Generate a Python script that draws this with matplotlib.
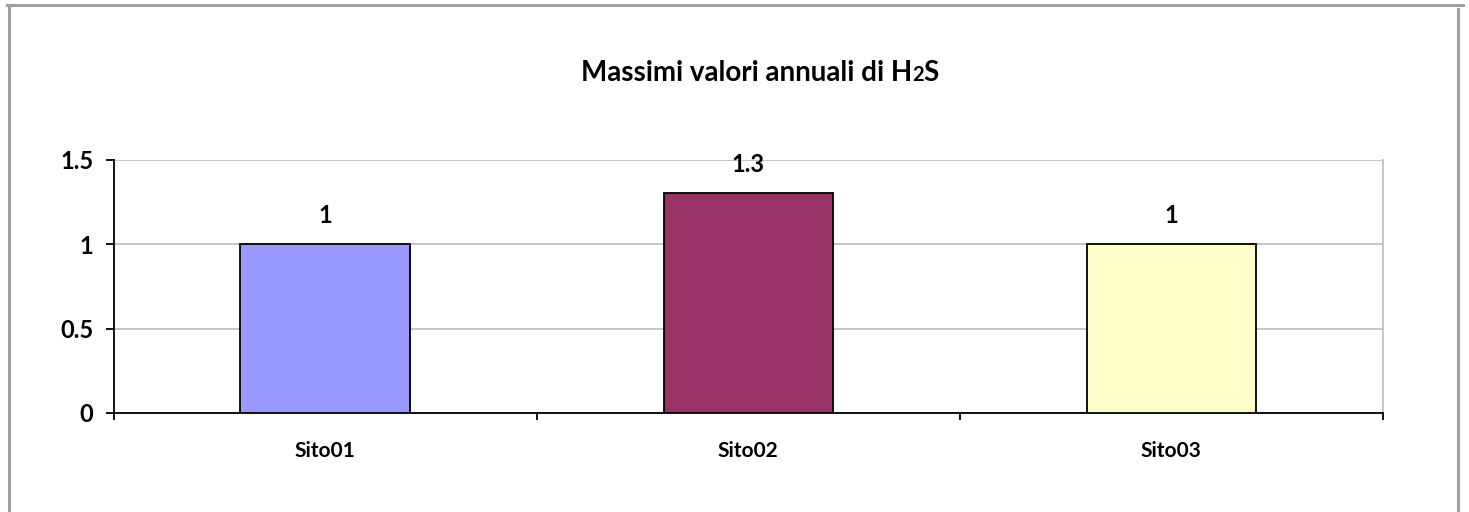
import matplotlib
matplotlib.use("Agg")
import matplotlib.pyplot as plt
from matplotlib.lines import Line2D
from matplotlib.offsetbox import TextArea, HPacker, AnnotationBbox

plt.rcParams['font.family'] = ['Lato', 'DejaVu Sans']
plt.rcParams['font.weight'] = 'bold'

categories = ["Sito01", "Sito02", "Sito03"]
values = [1.0, 1.3, 1.0]
value_labels = ["1", "1.3", "1"]
colors = ["#9999FF", "#993366", "#FFFFCC"]
yticks = [0, 0.5, 1, 1.5]
ytick_labels = ["0", "0.5", "1", "1.5"]

W, H = 1469, 512
fig = plt.figure(figsize=(W / 100, H / 100), dpi=100)
ax = fig.add_axes([113.5 / W, 1 - 413 / H, (1383 - 113.5) / W, (413 - 159.5) / H])

x = list(range(len(categories)))
ax.bar(x, values, width=0.4, color=colors, edgecolor="black", linewidth=1.3, zorder=3)
for xi, v, lab in zip(x, values, value_labels):
    ax.annotate(lab, (xi, v), xytext=(0, 15), textcoords="offset points",
                ha="center", va="baseline", fontsize=17, fontweight="bold")

ax.set_xlim(-0.5, 2.5)
ax.set_ylim(0, 1.5)
ax.set_yticks(yticks)
ax.set_yticklabels(ytick_labels, fontsize=17, fontweight="bold")
ax.set_xticks(x)
ax.set_xticklabels(categories, fontsize=15, fontweight="bold")
ax.set_xticks([-0.5, 0.5, 1.5, 2.5], minor=True)
ax.tick_params(axis="x", which="major", length=0, pad=20)
ax.tick_params(axis="x", which="minor", length=5, width=1.3, direction="out")
ax.tick_params(axis="y", length=5.5, width=1.3, direction="out", pad=9)
ax.yaxis.grid(True, color="#c0c0c0", linewidth=1.3, zorder=0)
ax.set_axisbelow(True)
for s in ["left", "bottom"]:
    ax.spines[s].set_color("black")
    ax.spines[s].set_linewidth(1.3)
ax.spines["top"].set_visible(False)
ax.spines["right"].set_color("#c0c0c0")
ax.spines["right"].set_linewidth(1.3)

# Title with smaller "2" in H2S
tp = dict(fontsize=20, fontweight="bold", color="black", family=['Lato', 'DejaVu Sans'])
tp_small = dict(fontsize=14.5, fontweight="bold", color="black", family=['Lato', 'DejaVu Sans'])
box = HPacker(children=[TextArea("Massimi valori annuali di H", textprops=tp),
                        TextArea("2", textprops=tp_small),
                        TextArea("S", textprops=tp)],
              align="baseline", pad=0, sep=0)
ab = AnnotationBbox(box, (760 / W, 1 - 73 / H), xycoords="figure fraction",
                    frameon=False, box_alignment=(0.5, 0.5))
fig.add_artist(ab)

# Outer chart border
bc = "#a0a0a0"
fig.add_artist(Line2D([8.5 / W, 8.5 / W], [0, 1 - 5 / H], transform=fig.transFigure, color=bc, linewidth=2.2))
fig.add_artist(Line2D([7 / W, 1463 / W], [1 - 5 / H, 1 - 5 / H], transform=fig.transFigure, color=bc, linewidth=2.2))
fig.add_artist(Line2D([1458 / W, 1458 / W], [0, 1 - 9 / H], transform=fig.transFigure, color=bc, linewidth=2.2))

fig.savefig("out.png", dpi=100, facecolor="white")
